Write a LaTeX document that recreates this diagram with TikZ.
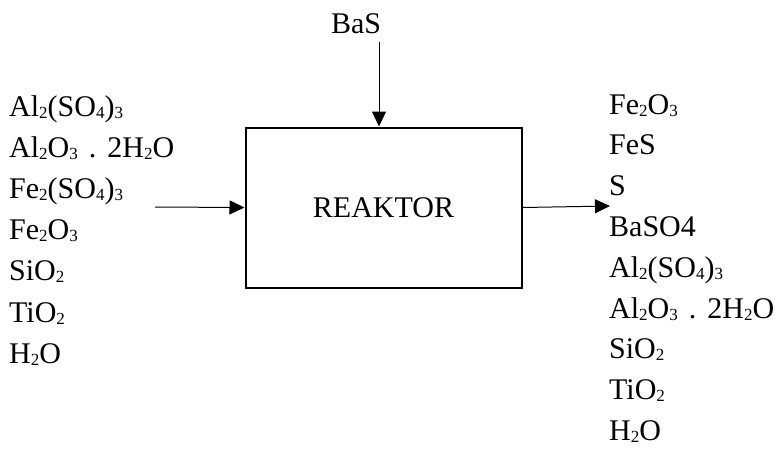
\documentclass[tikz,border=0pt]{standalone}
\usepackage{fontspec}
\setmainfont{Liberation Serif}
\usetikzlibrary{arrows.meta, positioning}
\newcommand{\chemsub}[1]{{\fontsize{17}{17}\selectfont\raisebox{-2pt}{#1}}}
\newcommand{\chemdot}{\hspace{11pt}.\hspace{11pt}}
\tikzstyle{reactor} = [rectangle, draw, line width=2pt, minimum width=276pt, minimum height=160pt, inner sep=0pt, font=\fontsize{30}{36}\selectfont]
\tikzstyle{chem} = [anchor=base west, inner sep=0pt, font=\fontsize{30}{36}\selectfont]
\tikzstyle{arrow} = [line width=1pt, -{Triangle[length=15pt, width=14pt]}]

\begin{document}
\begin{tikzpicture}[x=1pt, y=-1pt]
    \useasboundingbox (0,0) rectangle (781,448);
    \node[reactor] (reaktor) at (383.5,207.5) {REAKTOR};
    \node[chem, anchor=base] (bas) at (356,33) {BaS};

    % feed streams
    \foreach \f [count=\i from 0] in {{Al\chemsub{2}(SO\chemsub{4})\chemsub{3}}, {Al\chemsub{2}O\chemsub{3}\chemdot 2H\chemsub{2}O}, {Fe\chemsub{2}(SO\chemsub{4})\chemsub{3}}, {Fe\chemsub{2}O\chemsub{3}}, {SiO\chemsub{2}}, {TiO\chemsub{2}}, {H\chemsub{2}O}}
        \node[chem] (in\i) at (9,116+41.2*\i) {\f};

    % product streams
    \foreach \f [count=\i from 0] in {{Fe\chemsub{2}O\chemsub{3}}, {FeS}, {S}, {BaSO4}, {Al\chemsub{2}(SO\chemsub{4})\chemsub{3}}, {Al\chemsub{2}O\chemsub{3}\chemdot 2H\chemsub{2}O}, {SiO\chemsub{2}}, {TiO\chemsub{2}}, {H\chemsub{2}O}}
        \node[chem] (out\i) at (609,114+40.8*\i) {\f};

    \coordinate (feed) at (155,207);
    \coordinate (bastop) at (379,42);
    \coordinate (product) at (610,206);

    \draw[arrow] (feed) -- (reaktor.west);
    \draw[arrow] (bastop) -- (bastop |- reaktor.north);
    \draw[arrow] (reaktor.east) -- (product);
\end{tikzpicture}
\end{document}
